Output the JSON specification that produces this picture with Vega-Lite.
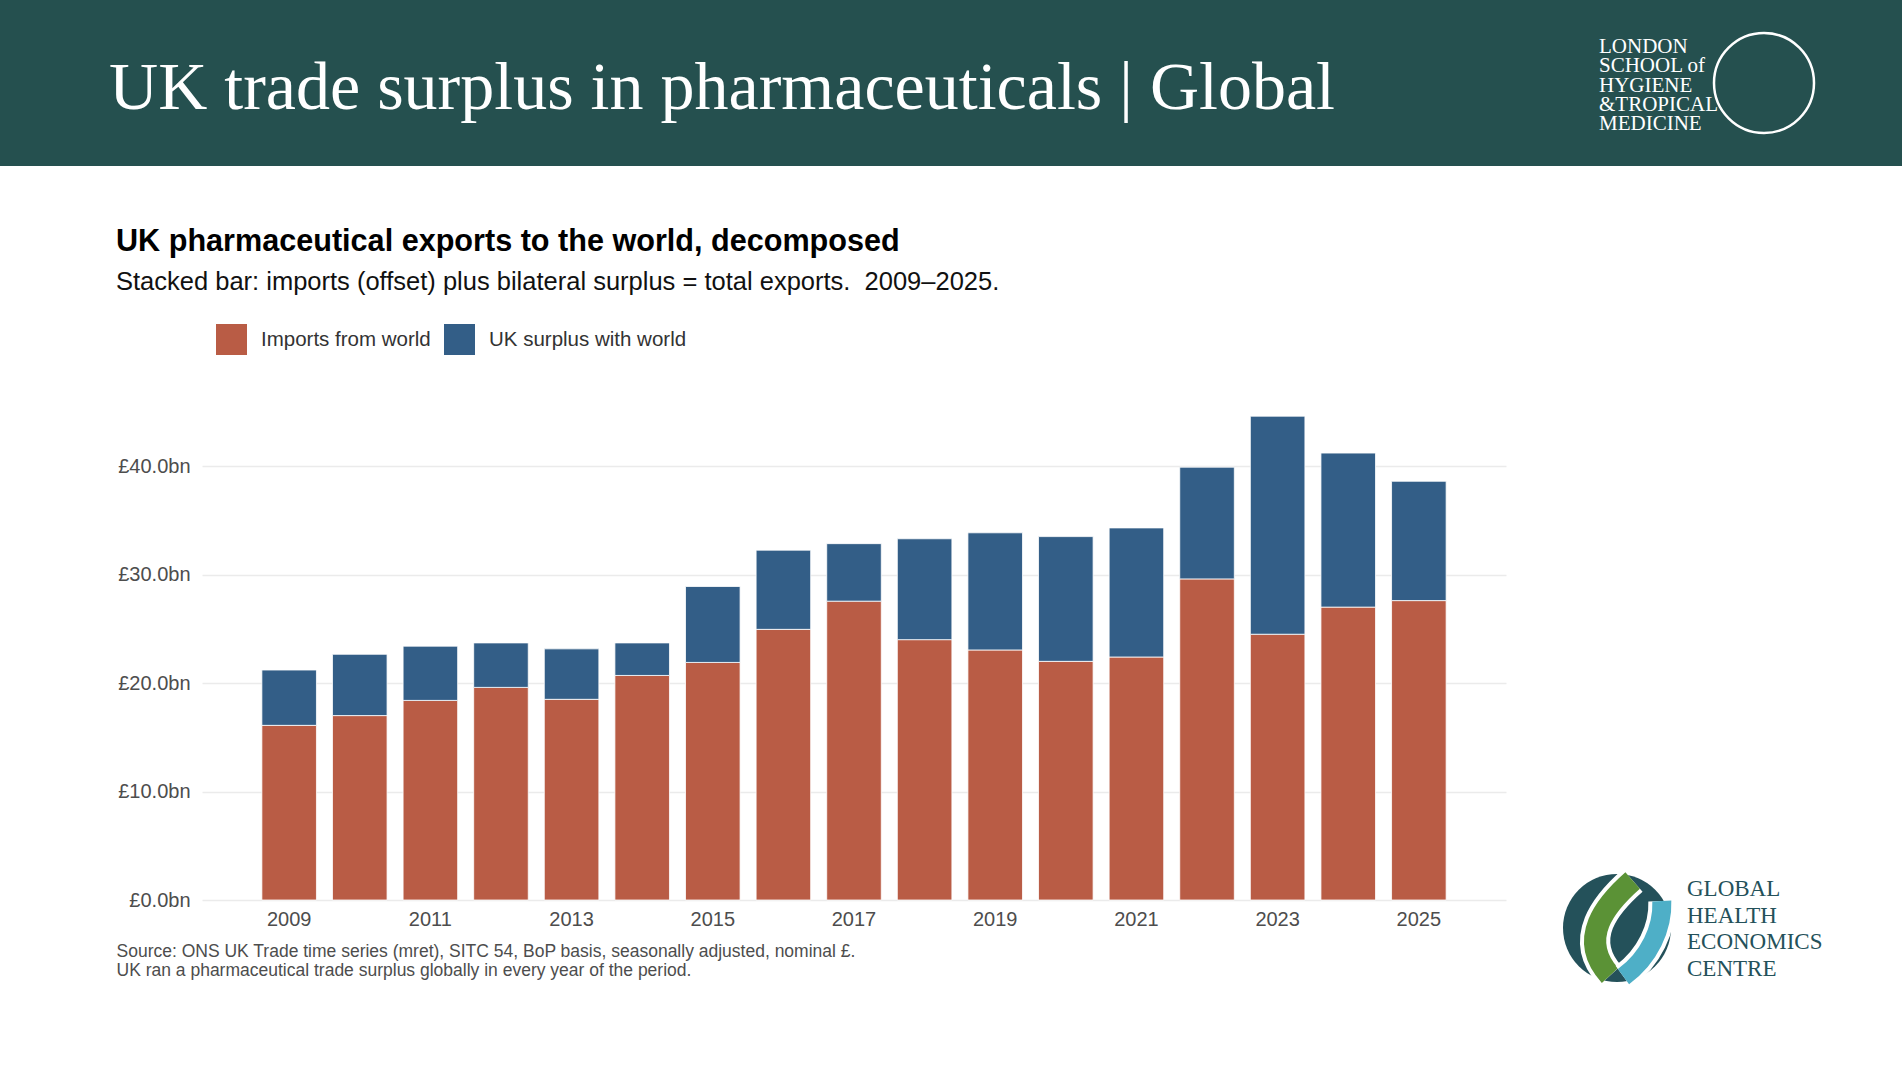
{
  "$schema": "https://vega.github.io/schema/vega-lite/v6.json",
  "description": "UK pharmaceutical exports to the world, split into imports and the UK surplus, 2009-2025.",
  "background": "white",
  "padding": 0,
  "spacing": 60,
  "resolve": {"scale": {"color": "independent"}, "legend": {"color": "independent"}},
  "config": {
    "font": "Liberation Sans",
    "view": {"stroke": null},
    "concat": {"spacing": 0}
  },
  "datasets": {
    "trade": [
      {"year": 2009, "series": "Imports from world", "value": 16.1},
      {"year": 2009, "series": "UK surplus with world", "value": 5.1},
      {"year": 2010, "series": "Imports from world", "value": 17.0},
      {"year": 2010, "series": "UK surplus with world", "value": 5.65},
      {"year": 2011, "series": "Imports from world", "value": 18.4},
      {"year": 2011, "series": "UK surplus with world", "value": 5.0},
      {"year": 2012, "series": "Imports from world", "value": 19.6},
      {"year": 2012, "series": "UK surplus with world", "value": 4.1},
      {"year": 2013, "series": "Imports from world", "value": 18.5},
      {"year": 2013, "series": "UK surplus with world", "value": 4.65},
      {"year": 2014, "series": "Imports from world", "value": 20.7},
      {"year": 2014, "series": "UK surplus with world", "value": 3.0},
      {"year": 2015, "series": "Imports from world", "value": 21.9},
      {"year": 2015, "series": "UK surplus with world", "value": 7.0},
      {"year": 2016, "series": "Imports from world", "value": 24.95},
      {"year": 2016, "series": "UK surplus with world", "value": 7.3},
      {"year": 2017, "series": "Imports from world", "value": 27.55},
      {"year": 2017, "series": "UK surplus with world", "value": 5.3},
      {"year": 2018, "series": "Imports from world", "value": 24.0},
      {"year": 2018, "series": "UK surplus with world", "value": 9.3},
      {"year": 2019, "series": "Imports from world", "value": 23.05},
      {"year": 2019, "series": "UK surplus with world", "value": 10.8},
      {"year": 2020, "series": "Imports from world", "value": 22.0},
      {"year": 2020, "series": "UK surplus with world", "value": 11.5},
      {"year": 2021, "series": "Imports from world", "value": 22.4},
      {"year": 2021, "series": "UK surplus with world", "value": 11.9},
      {"year": 2022, "series": "Imports from world", "value": 29.6},
      {"year": 2022, "series": "UK surplus with world", "value": 10.3},
      {"year": 2023, "series": "Imports from world", "value": 24.5},
      {"year": 2023, "series": "UK surplus with world", "value": 20.1},
      {"year": 2024, "series": "Imports from world", "value": 27.0},
      {"year": 2024, "series": "UK surplus with world", "value": 14.2},
      {"year": 2025, "series": "Imports from world", "value": 27.6},
      {"year": 2025, "series": "UK surplus with world", "value": 11.0}
    ],
    "lshtm": [{"text": "LONDON\nSCHOOL of\nHYGIENE\n&TROPICAL\nMEDICINE"}],
    "ghec": [{"text": "GLOBAL\nHEALTH\nECONOMICS\nCENTRE"}],
    "one": [{"item": "logo"}]
  },
  "vconcat": [
    {
      "bounds": "flush",
      "spacing": 0,
      "hconcat": [
        {
          "width": 1444,
          "height": 166,
          "view": {"fill": "#25504f", "stroke": null},
          "data": {"values": [{"headline": "UK trade surplus in pharmaceuticals | Global"}]},
          "mark": {"type": "text", "font": "Liberation Serif", "fontSize": 68, "color": "white", "align": "center", "baseline": "alphabetic", "dy": 26},
          "encoding": {"text": {"field": "headline"}}
        },
        {
          "width": 310,
          "height": 166,
          "view": {"fill": "#25504f", "stroke": null},
          "data": {"name": "lshtm"},
          "mark": {"type": "text", "font": "Liberation Serif", "fontSize": 21, "color": "white", "align": "left", "baseline": "alphabetic", "lineBreak": "\n", "lineHeight": 19.3, "dy": -30},
          "encoding": {"text": {"field": "text"}}
        },
        {
          "width": 148,
          "height": 166,
          "view": {"fill": "#25504f", "stroke": null},
          "data": {"name": "one"},
          "mark": {"type": "point", "shape": "circle", "filled": false, "color": "white", "opacity": 1, "size": 10000, "strokeWidth": 2.5, "xOffset": -64},
          "encoding": {}
        }
      ]
    },
    {
      "spacing": 0,
      "resolve": {"scale": {"color": "independent"}, "legend": {"color": "independent"}},
      "hconcat": [
        {
          "width": 116,
          "height": 1,
          "data": {"name": "one"},
          "mark": {"type": "text"},
          "encoding": {"text": {"value": ""}}
        },
        {
          "width": 1304,
          "height": 499,
          "data": {"name": "trade"},
          "title": {
            "text": "UK pharmaceutical exports to the world, decomposed",
            "subtitle": "Stacked bar: imports (offset) plus bilateral surplus = total exports.\u00a0 2009–2025.",
            "anchor": "start",
            "frame": "group",
            "dx": -86,
            "offset": 29,
            "fontSize": 30.6,
            "fontWeight": "bold",
            "color": "#000000",
            "subtitleFontSize": 25.5,
            "subtitleColor": "#111111",
            "subtitlePadding": 12
          },
          "mark": {"type": "bar", "stroke": "white", "strokeWidth": 0.8},
          "encoding": {
            "x": {
              "field": "year",
              "type": "ordinal",
              "scale": {"paddingInner": 0.227, "paddingOuter": 0.848},
              "axis": {
                "labelAngle": 0,
                "labelExpr": "datum.value % 2 == 1 ? datum.label : ''",
                "labelFontSize": 20,
                "labelColor": "#4d4d4d",
                "labelPadding": 9.5,
                "ticks": false,
                "tickSize": 0,
                "domain": false,
                "grid": false,
                "title": [
                  "Source: ONS UK Trade time series (mret), SITC 54, BoP basis, seasonally adjusted, nominal £.",
                  "UK ran a pharmaceutical trade surplus globally in every year of the period."
                ],
                "titleFontSize": 17.5,
                "titleFontWeight": "normal",
                "titleColor": "#4d4d4d",
                "titleAlign": "left",
                "titleAnchor": "start",
                "titleX": -86,
                "titleY": 56,
                "titleBaseline": "alphabetic",
                "titleLineHeight": 19.5
              }
            },
            "y": {
              "field": "value",
              "type": "quantitative",
              "stack": "zero",
              "scale": {"domain": [0, 46], "nice": false},
              "axis": {
                "title": null,
                "values": [0, 10, 20, 30, 40],
                "labelExpr": "'£' + format(datum.value, '.1f') + 'bn'",
                "labelFontSize": 20,
                "labelColor": "#4d4d4d",
                "labelPadding": 12,
                "ticks": false,
                "tickSize": 0,
                "domain": false,
                "gridColor": "#ebebeb",
                "gridWidth": 1.6
              }
            },
            "color": {
              "field": "series",
              "type": "nominal",
              "scale": {
                "domain": ["Imports from world", "UK surplus with world"],
                "range": ["#b95c45", "#335e87"]
              },
              "legend": {
                "orient": "none",
                "legendX": 14,
                "legendY": -77,
                "direction": "horizontal",
                "title": null,
                "symbolType": "square",
                "symbolSize": 961,
                "symbolStrokeWidth": 0,
                "labelFontSize": 20.5,
                "labelColor": "#333333",
                "labelLimit": 0,
                "labelOffset": 14,
                "columnPadding": 13,
                "padding": 0
              }
            },
            "order": {"field": "series", "sort": "ascending"}
          }
        },
        {
          "bounds": "flush",
          "spacing": 0,
          "vconcat": [
            {
              "width": 222,
              "height": 467,
              "data": {"name": "one"},
              "mark": {"type": "text"},
              "encoding": {"text": {"value": ""}}
            },
            {
              "width": 222,
              "height": 120,
              "layer": [
                {
                  "data": {"name": "one"},
                  "mark": {"type": "point", "shape": "circle", "filled": true, "color": "#24515a", "opacity": 1, "size": 11664, "strokeWidth": 0},
                  "encoding": {}
                },
                {
                  "data": {"name": "one"},
                  "mark": {"type": "point", "shape": "M0.29,-0.88 C-0.2,-0.45 -0.75,0.2 -0.13,0.88", "filled": false, "color": "white", "opacity": 1, "size": 11664, "strokeWidth": 30},
                  "encoding": {}
                },
                {
                  "data": {"name": "one"},
                  "mark": {"type": "point", "shape": "M0.29,-0.88 C-0.2,-0.45 -0.75,0.2 -0.13,0.88", "filled": false, "color": "#5b9236", "opacity": 1, "size": 11664, "strokeWidth": 22},
                  "encoding": {}
                },
                {
                  "data": {"name": "one"},
                  "mark": {"type": "point", "shape": "M0.83,-0.5 C0.85,0 0.6,0.55 0.12,0.9", "filled": false, "color": "white", "opacity": 1, "size": 11664, "strokeWidth": 27},
                  "encoding": {}
                },
                {
                  "data": {"name": "one"},
                  "mark": {"type": "point", "shape": "M0.83,-0.5 C0.85,0 0.6,0.55 0.12,0.9", "filled": false, "color": "#4eafc7", "opacity": 1, "size": 11664, "strokeWidth": 19},
                  "encoding": {}
                },
                {
                  "data": {"name": "ghec"},
                  "mark": {"type": "text", "font": "Liberation Serif", "fontSize": 23, "color": "#24515a", "align": "left", "baseline": "alphabetic", "lineBreak": "\n", "lineHeight": 26.7, "dx": 70, "dy": -32},
                  "encoding": {"text": {"field": "text"}}
                }
              ]
            }
          ]
        }
      ]
    }
  ]
}
